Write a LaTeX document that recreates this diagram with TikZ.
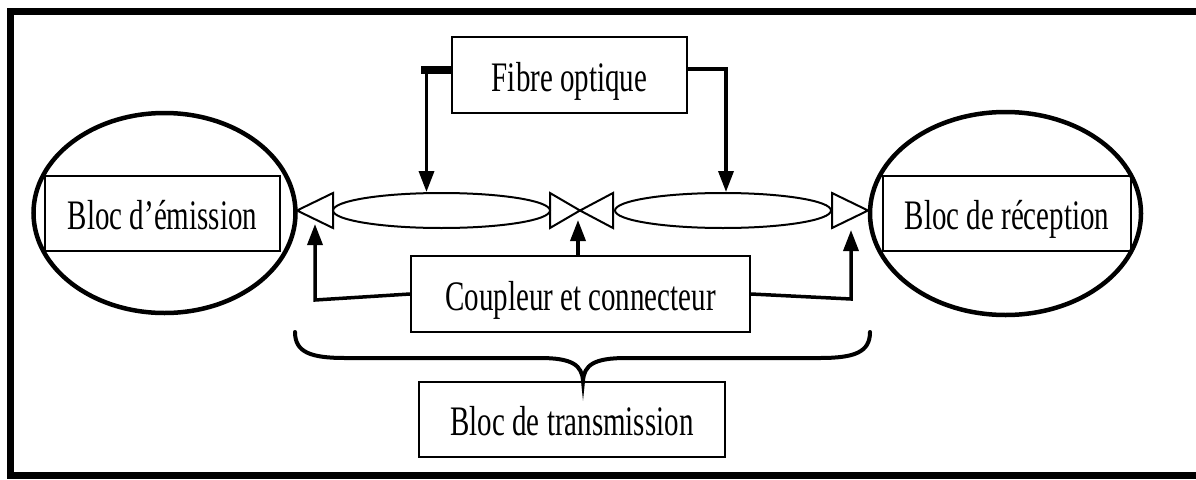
\documentclass[tikz,border=0pt]{standalone}
\usepackage{fontspec}
\setmainfont[FakeStretch=0.69]{Liberation Serif}
\usetikzlibrary{arrows.meta,shapes.geometric}
\begin{document}
\begin{tikzpicture}[x=1pt,y=-1pt,
  box/.style={draw, line width=2pt, rectangle, inner sep=0pt, text height=32pt, text depth=0pt,
              font=\fontsize{42}{48}\selectfont},
  bigell/.style={draw, ellipse, line width=4.5pt, inner sep=0pt},
  smallell/.style={draw, ellipse, line width=2pt, inner sep=0pt},
  tri/.style={draw, line width=2pt, line join=miter},
  conn/.style={line width=3.5pt, -{Triangle[length=21pt,width=15pt]}},
  thickconn/.style={line width=8pt},
  bracestyle/.style={line width=4pt, line cap=round},
  framestyle/.style={line width=7pt}]

\useasboundingbox (0,0) rectangle (1196,479);
\clip (0,0) rectangle (1196,479);
\fill[white] (0,0) rectangle (1196,479);
\draw[framestyle] (1250,11) -- (10.5,11) -- (10.5,475) -- (1250,475);

% big ellipses with blocks
\node[bigell, minimum width=262pt, minimum height=200pt] (le) at (164.5,213) {};
\node[box, minimum width=235pt, minimum height=75pt] (em) at (162.5,213.5) {Bloc d’émission};
\node[bigell, minimum width=271pt, minimum height=203pt] (re) at (1005.5,213.5) {};
\node[box, minimum width=248pt, minimum height=75pt] (rec) at (1007,213.5) {Bloc de réception};

% boxes
\node[box, minimum width=235pt, minimum height=76pt] (fib) at (569.5,75) {Fibre optique};
\node[box, minimum width=339pt, minimum height=76pt] (cp) at (580.5,294) {Coupleur et connecteur};
\node[box, minimum width=306pt, minimum height=75pt] (tr) at (572,419.5) {Bloc de transmission};

% small ellipses (fibres)
\node[smallell, minimum width=217pt, minimum height=35pt] (lf) at (441.5,210.5) {};
\node[smallell, minimum width=216pt, minimum height=35pt] (rf) at (723,210.5) {};

% open triangles (couplers / connectors)
\draw[tri] (333,193) -- (297,210.5) -- (333,228) -- cycle;
\draw[tri] (550,193) -- (580,210.5) -- (550,228) -- cycle;
\draw[tri] (613,193) -- (580,210.5) -- (613,228) -- cycle;
\draw[tri] (832,193) -- (868,210.5) -- (832,228) -- cycle;

% arrow targets
\coordinate (aL) at (315,224);
\coordinate (aM) at (578,220);
\coordinate (aR) at (851,230);

% fibre optique connectors
\draw[thickconn] ([yshift=5pt]fib.west) -- ++(-30,0);
\draw[conn] ([yshift=5pt]fib.west) -| ([xshift=-15pt]lf.north);
\draw[conn] ([yshift=6pt]fib.east) -| ([xshift=3pt]rf.north);

% coupleur connectors
\draw[conn] (cp.west) -- ([yshift=-6pt]cp.west -| aL) -- (aL);
\draw[conn] (cp.north -| aM) -- (aM);
\draw[conn] (cp.east) -- ([yshift=-5pt]cp.east -| aR) -- (aR);

% brace
\draw[bracestyle] (295,332) .. controls (295,352) and (310,358) .. (345,358)
  -- (540,358) .. controls (572,358) and (582,365) .. (583,381)
  .. controls (584,365) and (594,358) .. (626,358)
  -- (820,358) .. controls (855,358) and (870,352) .. (870,332);
\end{tikzpicture}
\end{document}
